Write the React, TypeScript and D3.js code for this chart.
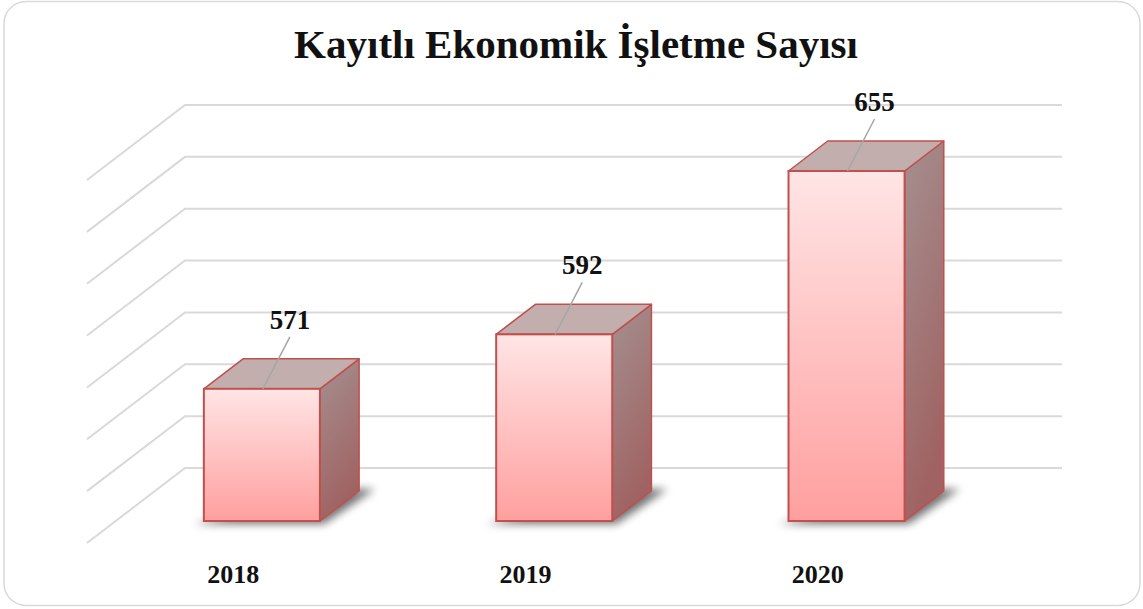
import React from "react";
import * as d3 from "d3";

const categories: string[] = ["2018", "2019", "2020"];
const values: number[] = [571, 592, 655];
const gridTicks: number[] = [520, 540, 560, 580, 600, 620, 640, 660];
const title = "Kayıtlı Ekonomik İşletme Sayısı";

const W = 1143;
const H = 609;
const DX = 98;
const DY = 75;
const Z0 = 0.293;
const Z1 = 0.693;
const FONT = "'Liberation Serif', 'Times New Roman', serif";

export default function App() {
  const x = d3.scaleBand<string>().domain(categories).range([87, 964]).padding(0);
  const y = d3.scaleLinear().domain([520, 660]).range([543, 180]);
  const proj = (px: number, v: number, z: number): [number, number] => [px + z * DX, y(v) - z * DY];
  const barW = x.step() * 0.397;
  const pts = (arr: [number, number][]) => arr.map((p) => p.join(",")).join(" ");

  return (
    <div style={{ position: "absolute", left: 0, top: 0 }}>
      <svg width={W} height={H} style={{ display: "block" }}>
        <defs>
          <linearGradient id="front" x1="0" y1="0" x2="0" y2="1">
            <stop offset="0" stopColor="#ffe5e5" />
            <stop offset="1" stopColor="#ff9f9f" />
          </linearGradient>
          <linearGradient id="side" x1="0" y1="0" x2="0.3" y2="1">
            <stop offset="0" stopColor="#a59090" />
            <stop offset="1" stopColor="#a06262" />
          </linearGradient>
          <filter id="blur" x="-30%" y="-100%" width="160%" height="300%">
            <feGaussianBlur stdDeviation="4" />
          </filter>
        </defs>
        <rect x={4} y={1.5} width={1136} height={604} rx={22} ry={22} fill="#ffffff" stroke="#d9d9d9" strokeWidth={1.5} />
        <text x={576} y={58} textAnchor="middle" fontFamily={FONT} fontWeight="bold" fontSize={41} fill="#111">
          {title}
        </text>
        {gridTicks.map((t) => {
          const a = proj(87, t, 0);
          const b = proj(87, t, 1);
          const c = proj(964, t, 1);
          return (
            <polyline key={t} points={pts([a, b, c])} fill="none" stroke="#d9d9d9" strokeWidth={2} />
          );
        })}
        {categories.map((cat, i) => {
          const v = values[i];
          const cx = (x(cat) as number) + x.step() / 2;
          const l = cx - barW / 2;
          const r = cx + barW / 2;
          const fbl = proj(l, 520, Z0);
          const fbr = proj(r, 520, Z0);
          const ftl = proj(l, v, Z0);
          const ftr = proj(r, v, Z0);
          const bbr = proj(r, 520, Z1);
          const btl = proj(l, v, Z1);
          const btr = proj(r, v, Z1);
          const sh: [number, number][] = [
            [fbl[0] - 10, fbl[1] + 3],
            [fbr[0] + 4, fbr[1] + 3],
            [bbr[0] + 16, bbr[1] - 2],
            [bbr[0] - 20, bbr[1] - 2],
          ];
          const lx0 = (ftl[0] + ftr[0]) / 2 + 1;
          const ly0 = ftl[1];
          return (
            <g key={cat}>
              <polygon points={pts(sh)} fill="#000" opacity={0.55} filter="url(#blur)" />
              <polygon points={pts([ftr, btr, bbr, fbr])} fill="url(#side)" stroke="#c0504d" strokeWidth={1.5} strokeLinejoin="round" />
              <polygon points={pts([ftl, btl, btr, ftr])} fill="#c3aeae" stroke="#c0504d" strokeWidth={1.5} strokeLinejoin="round" />
              <rect x={ftl[0]} y={ftl[1]} width={barW} height={fbl[1] - ftl[1]} fill="url(#front)" stroke="#c0504d" strokeWidth={2} />
              <line x1={lx0} y1={ly0} x2={lx0 + 27} y2={ly0 - 52} stroke="#a6a6a6" strokeWidth={1.5} />
              <text x={lx0 + 27} y={ly0 - 60} textAnchor="middle" fontFamily={FONT} fontWeight="bold" fontSize={27} fill="#111">
                {v}
              </text>
              <text x={cx} y={583} textAnchor="middle" fontFamily={FONT} fontWeight="bold" fontSize={26} fill="#111">
                {cat}
              </text>
            </g>
          );
        })}
      </svg>
    </div>
  );
}
